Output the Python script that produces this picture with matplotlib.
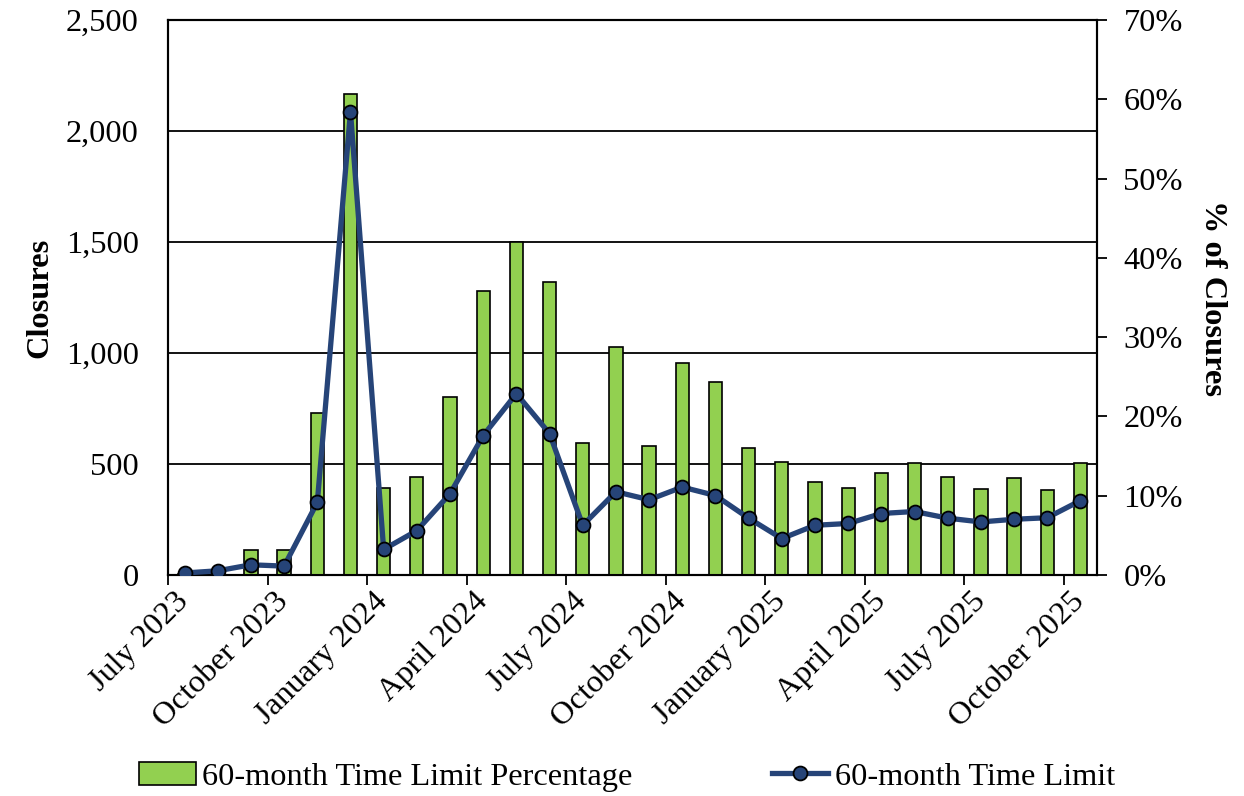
import numpy as np
import matplotlib
matplotlib.use('Agg')
import matplotlib.pyplot as plt
from matplotlib.ticker import FuncFormatter, FixedLocator

plt.rcParams['font.family'] = ['Liberation Serif', 'DejaVu Serif']

months = ['July 2023', 'August 2023', 'September 2023', 'October 2023', 'November 2023',
          'December 2023', 'January 2024', 'February 2024', 'March 2024', 'April 2024',
          'May 2024', 'June 2024', 'July 2024', 'August 2024', 'September 2024',
          'October 2024', 'November 2024', 'December 2024', 'January 2025', 'February 2025',
          'March 2025', 'April 2025', 'May 2025', 'June 2025', 'July 2025',
          'August 2025', 'September 2025', 'October 2025']

# percentage of closures (bars, right axis)
pct = [0.1, 0.3, 3.1, 3.1, 20.4, 60.7, 11.0, 12.4, 22.5, 35.8,
       42.0, 37.0, 16.6, 28.7, 16.3, 26.7, 24.4, 16.0, 14.3, 11.7,
       11.0, 12.9, 14.1, 12.3, 10.9, 12.2, 10.7, 14.1]

# closures (line, left axis)
closures = [9, 19, 46, 40, 327, 2087, 115, 200, 366, 628,
            817, 637, 224, 375, 339, 396, 358, 256, 164, 224,
            232, 277, 286, 256, 239, 251, 258, 335]

x = np.arange(len(months))
fs = 23.3

fig = plt.figure(figsize=(12.44, 7.96), dpi=100)
ax = fig.add_axes([168 / 1244, 1 - 575 / 796, (1097 - 168) / 1244, (575 - 20) / 796])

# left axis: gridlines only
ax.set_ylim(0, 2500)
ax.set_xlim(-0.5, len(months) - 0.5)
ax.set_yticks(np.arange(0, 2501, 500))
ax.yaxis.set_major_formatter(FuncFormatter(lambda v, p: f'{int(v):,}'))
ax.grid(axis='y', color='black', linewidth=1.3)
ax.set_axisbelow(True)
ax.tick_params(axis='y', length=0, labelsize=fs, pad=21)
ax.set_ylabel('Closures', fontsize=fs, fontweight='bold', labelpad=8)

# x ticks at category boundaries, labels at category centres
ax.xaxis.set_major_locator(FixedLocator(np.arange(-0.5, len(months), 3)))
ax.xaxis.set_major_formatter(FuncFormatter(lambda v, p: ''))
ax.xaxis.set_minor_locator(FixedLocator(x[::3]))
ax.set_xticklabels([months[i] for i in x[::3]], minor=True, rotation=45,
                   ha='right', va='center', rotation_mode='anchor', fontsize=fs)
ax.tick_params(axis='x', which='major', direction='out', length=7, width=1.3)
ax.tick_params(axis='x', which='minor', length=0, pad=16)

for s in ax.spines.values():
    s.set_linewidth(1.5)

# right axis: percentage bars
ax2 = ax.twinx()
bars = ax2.bar(x, pct, width=0.4, color='#92D050', edgecolor='black', linewidth=1.2,
               label='60-month Time Limit Percentage')
ax2.set_ylim(0, 70)
ax2.set_yticks(np.arange(0, 71, 10))
ax2.yaxis.set_major_formatter(FuncFormatter(lambda v, p: f'{int(v)}%'))
ax2.tick_params(axis='y', direction='out', length=7, width=1.3, labelsize=fs, pad=12)
ax2.set_ylabel('% of Closures', fontsize=fs, fontweight='bold', rotation=270, labelpad=32)
for s in ax2.spines.values():
    s.set_linewidth(1.5)

# line on top, on the closures scale
ax3 = ax.twinx()
ax3.set_ylim(ax.get_ylim())
ax3.axis('off')
line, = ax3.plot(x, closures, color='#264478', linewidth=3.8, marker='o', markersize=10,
                 markerfacecolor='#264478', markeredgecolor='black', markeredgewidth=1.3,
                 label='60-month Time Limit')

fig.legend(handles=[bars, line], loc='center', bbox_to_anchor=(0.504, 0.024), ncol=2,
           frameon=False, fontsize=fs, handlelength=1.75, handletextpad=0.2,
           columnspacing=4.3, borderaxespad=0)

fig.savefig('out.png', dpi=100)
